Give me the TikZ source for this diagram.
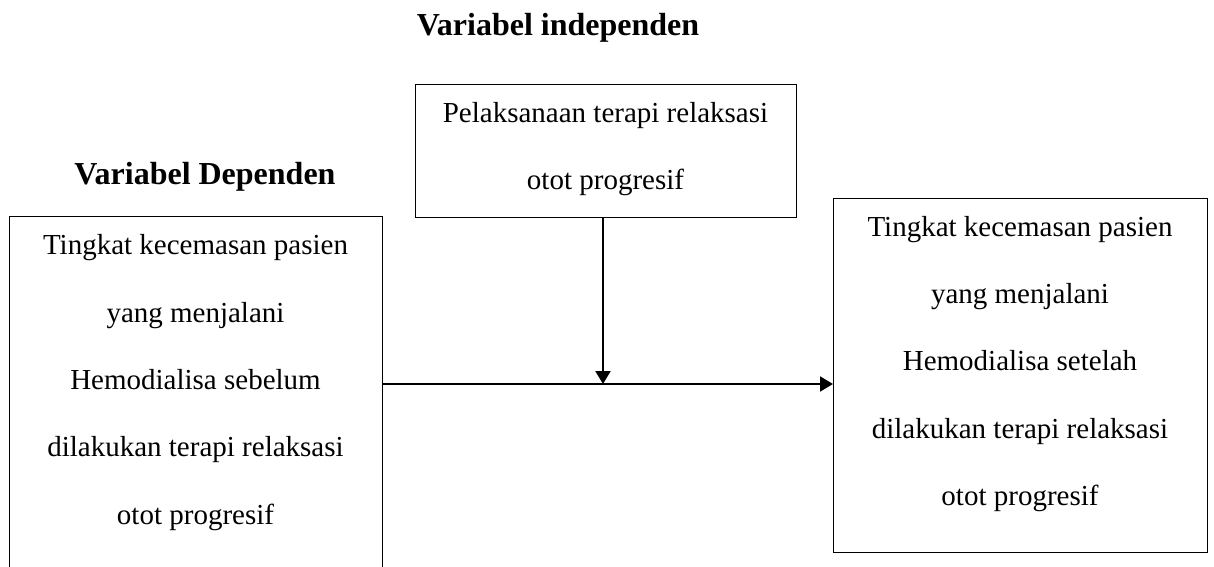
\documentclass[tikz,border=0pt]{standalone}
\usepackage{fontspec}
\setmainfont{Liberation Serif}
\usetikzlibrary{arrows.meta}
\tikzset{
  box/.style={draw=black, line width=1.3pt, rectangle, inner sep=0pt},
  boxtext/.style={inner sep=0pt, align=center, anchor=north, font=\fontsize{29}{67.3}\selectfont},
  title/.style={inner sep=0pt, anchor=base, font=\fontsize{32}{38}\selectfont\bfseries},
  conn/.style={line width=2pt, -{Triangle[length=13pt,width=15pt]}}
}
\begin{document}
\begin{tikzpicture}[x=1pt,y=1pt]
\useasboundingbox (0,0) rectangle (1214,566);
% boxes
\node[box, minimum width=373pt, minimum height=370.3pt, anchor=north west] (left) at (9,350.3) {};
\node[box, minimum width=381pt, minimum height=132.7pt, anchor=north west] (top) at (415,482) {};
\node[box, minimum width=374pt, minimum height=354pt, anchor=north west] (right) at (833,368) {};
% texts
\node[boxtext] (lefttext) at (195.5,331.5) {Tingkat kecemasan pasien\\yang menjalani\\Hemodialisa sebelum\\dilakukan terapi relaksasi\\otot progresif};
\node[boxtext] (toptext) at (605.5,464) {Pelaksanaan terapi relaksasi\\otot progresif};
\node[boxtext] (righttext) at (1020,350) {Tingkat kecemasan pasien\\yang menjalani\\Hemodialisa setelah\\dilakukan terapi relaksasi\\otot progresif};
% titles
\node[title] (indep) at (558,530.3) {Variabel independen};
\node[title] (dep) at (205,381.7) {Variabel Dependen};
% connectors
\coordinate (j) at (603,182);
\draw[line width=2pt] (left.east |- j) -- (j);
\draw[conn] (j) -- (right.west |- j);
\draw[conn] (top.south -| j) -- (j);
\end{tikzpicture}
\end{document}
